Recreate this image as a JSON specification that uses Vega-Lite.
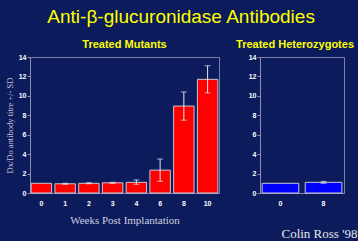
{
  "$schema": "https://vega.github.io/schema/vega-lite/v6.json",
  "background": "#0b1b5b",
  "padding": {"left": 4, "top": 7, "right": 0, "bottom": 0},
  "title": {"text": "Anti-β-glucuronidase Antibodies", "color": "#ffff00", "font": "Liberation Sans", "fontSize": 19, "fontWeight": "normal", "anchor": "middle", "offset": 12},
  "bounds": "flush",
  "spacing": 41,
  "config": {
    "view": {"stroke": "#7880a8", "strokeWidth": 1, "fill": "#0b1b5b"},
    "axis": {"grid": false, "domainColor": "#8890b0", "tickColor": "#8890b0", "labelColor": "#ffffff", "labelFont": "Liberation Sans", "labelFontWeight": "bold", "labelFontSize": 7, "labelOverlap": false},
    "title": {"color": "#ffff00", "font": "Liberation Sans", "fontWeight": "bold", "fontSize": 11}
  },
  "hconcat": [
    {
      "width": 189,
      "height": 136,
      "title": {"text": "Treated Mutants", "offset": 3},
      "data": {"values": [
        {"week": "0", "mean": 1.0, "lo": 1.0, "hi": 1.0},
        {"week": "1", "mean": 0.95, "lo": 0.9, "hi": 1.0},
        {"week": "2", "mean": 1.0, "lo": 0.95, "hi": 1.05},
        {"week": "3", "mean": 1.05, "lo": 1.0, "hi": 1.1},
        {"week": "4", "mean": 1.1, "lo": 0.9, "hi": 1.35},
        {"week": "6", "mean": 2.35, "lo": 1.2, "hi": 3.5},
        {"week": "8", "mean": 8.95, "lo": 7.5, "hi": 10.4},
        {"week": "10", "mean": 11.7, "lo": 10.3, "hi": 13.1}
      ]},
      "encoding": {
        "x": {"field": "week", "type": "ordinal", "sort": null,
              "scale": {"paddingInner": 0.14, "paddingOuter": 0.05},
              "axis": {"labelAngle": 0, "ticks": false, "labelPadding": 6, "title": "Weeks Post Implantation", "titleFont": "Liberation Serif", "titleFontSize": 11, "titleFontWeight": "normal", "titleColor": "#d0d0e0", "titlePadding": 8}}
      },
      "layer": [
        {
          "mark": {"type": "bar", "color": "#ff0000", "stroke": "#c8c8d8", "strokeWidth": 1},
          "encoding": {
            "y": {"field": "mean", "type": "quantitative", "scale": {"domain": [0, 14]}, "title": "Dx/Do antibody titre +/- SD",
                  "axis": {"values": [0,1,2,3,4,5,6,7,8,9,10,11,12,13,14], "tickCount": 14, "labelOverlap": false, "tickSize": 3, "labelPadding": 1, "titleFont": "Liberation Serif", "titleFontSize": 8.5, "titleFontWeight": "normal", "titleColor": "#c8c8d8", "titlePadding": 4}}
          }
        },
        {
          "transform": [{"filter": "datum.hi > datum.lo"}],
          "mark": {"type": "errorbar", "ticks": {"size": 6}, "color": "#e8e8f0"},
          "encoding": {
            "y": {"field": "lo", "type": "quantitative", "scale": {"domain": [0, 14]}, "title": "Dx/Do antibody titre +/- SD",
                  "axis": {"values": [0,1,2,3,4,5,6,7,8,9,10,11,12,13,14], "tickCount": 14, "labelOverlap": false, "tickSize": 3, "labelPadding": 1, "titleFont": "Liberation Serif", "titleFontSize": 8.5, "titleFontWeight": "normal", "titleColor": "#c8c8d8", "titlePadding": 4}},
            "y2": {"field": "hi"}
          }
        }
      ]
    },
    {
      "width": 84,
      "height": 136,
      "title": {"text": "Treated Heterozygotes", "offset": 3, "dx": -7},
      "data": {"values": [
        {"week": "0", "mean": 1.0, "lo": 1.0, "hi": 1.0},
        {"week": "8", "mean": 1.1, "lo": 1.0, "hi": 1.2}
      ]},
      "encoding": {
        "x": {"field": "week", "type": "ordinal", "sort": null,
              "scale": {"paddingInner": 0.15, "paddingOuter": 0.05},
              "axis": {"labelAngle": 0, "ticks": false, "labelPadding": 6, "title": "Colin Ross '98", "titleFont": "Liberation Serif", "titleFontSize": 13, "titleFontWeight": "normal", "titleColor": "#e8e8e8", "titleAnchor": "end", "titleAlign": "right", "titleX": 97, "titleY": 34}}
      },
      "layer": [
        {
          "mark": {"type": "bar", "color": "#0000ff", "stroke": "#c8c8d8", "strokeWidth": 1},
          "encoding": {
            "y": {"field": "mean", "type": "quantitative", "scale": {"domain": [0, 14]}, "title": null,
                  "axis": {"values": [0,1,2,3,4,5,6,7,8,9,10,11,12,13,14], "tickCount": 14, "labelOverlap": false, "tickSize": 3, "labelPadding": 1}}
          }
        },
        {
          "transform": [{"filter": "datum.hi > datum.lo"}],
          "mark": {"type": "errorbar", "ticks": {"size": 6}, "color": "#e8e8f0"},
          "encoding": {
            "y": {"field": "lo", "type": "quantitative", "scale": {"domain": [0, 14]}, "title": null,
                  "axis": {"values": [0,1,2,3,4,5,6,7,8,9,10,11,12,13,14], "tickCount": 14, "labelOverlap": false, "tickSize": 3, "labelPadding": 1}},
            "y2": {"field": "hi"}
          }
        }
      ]
    }
  ]
}
